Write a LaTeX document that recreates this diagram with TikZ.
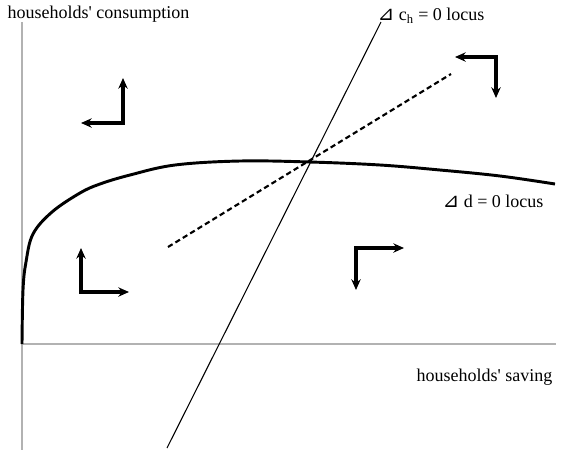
\documentclass[tikz,border=0pt]{standalone}
\usepackage{fontspec}
\setmainfont{Liberation Serif}
\newfontfamily\symfont{DejaVu Sans}
\newcommand{\rtri}{{\symfont\fontsize{15}{16}\selectfont ⊿}}
\usetikzlibrary{arrows.meta}

\begin{document}
\begin{tikzpicture}[x=.75pt,y=-.75pt,line width=.8pt,font=\fontsize{13.5}{16}\selectfont,
  axis/.style={gray!60,line width=1pt},
  flow/.style={line width=2.4pt,line join=miter,{Stealth[length=8pt,width=7pt]}-{Stealth[length=8pt,width=7pt]}}]
\useasboundingbox (0,0) rectangle (564,455);
% axes
\coordinate (Y) at (22,22); \coordinate (Yb) at (22,450); \coordinate (O) at (22,344); \coordinate (X) at (556,344);
\draw[axis] (Y)--(Yb); \draw[axis] (O)--(X);
\node[anchor=west,inner sep=0] (cons) at (7,14) {households\textquotesingle\ consumption};
\node[anchor=west,inner sep=0] (sav) at (416,377) {households\textquotesingle\ saving};
% loci
\coordinate (A) at (167,448); \coordinate (B) at (381,22);
\draw (A)--(B);
\coordinate (C) at (168,247); \coordinate (D) at (451,74);
\draw[line width=1.6pt,dash pattern=on 4pt off 2.5pt] (C)--(D);
\draw[line width=2.2pt] plot[smooth,tension=.6] coordinates {(22,344) (23,290) (26,262) (33,234) (52,212) (80,193) (100,184) (130,175) (175,165) (240,161) (310,162) (380,165) (440,170) (500,176) (555,184)};
\node[anchor=west,inner sep=0] (ch) at (377,16) {\rtri\ c\textsubscript{h} = 0 locus};
\node[anchor=west,inner sep=0] (dl) at (442,201) {\rtri\ d = 0 locus};
% directions
\coordinate (P1) at (123,123); \coordinate (P1a) at (81,123); \coordinate (P1b) at (123,78);
\draw[flow] (P1a)--(P1)--(P1b);
\coordinate (P2) at (81,292); \coordinate (P2a) at (81,248); \coordinate (P2b) at (129,292);
\draw[flow] (P2a)--(P2)--(P2b);
\coordinate (P3) at (356,248); \coordinate (P3a) at (356,290); \coordinate (P3b) at (404,248);
\draw[flow] (P3a)--(P3)--(P3b);
\coordinate (P4) at (496,57); \coordinate (P4a) at (455,57); \coordinate (P4b) at (496,98);
\draw[flow] (P4a)--(P4)--(P4b);
\end{tikzpicture}
\end{document}
